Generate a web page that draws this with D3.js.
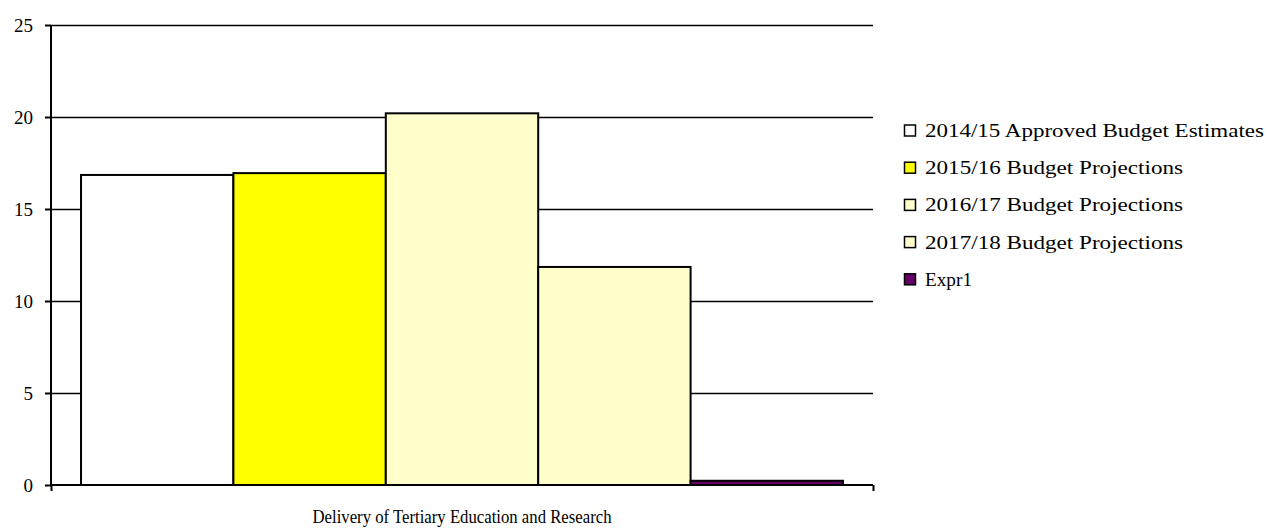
<!DOCTYPE html>
<html><head><meta charset="utf-8">
<script src="https://cdn.jsdelivr.net/npm/d3@7"></script>
<style>body{margin:0;background:#fff}svg{display:block}text{font-family:"Liberation Serif","Times New Roman",serif;fill:#000}</style>
</head><body><svg id="c" width="1269" height="528"></svg>
<script>
const categories = ["Delivery of Tertiary Education and Research"];
const seriesNames = ["2014/15 Approved Budget Estimates","2015/16 Budget Projections","2016/17 Budget Projections","2017/18 Budget Projections","Expr1"];
const seriesValues = [16.85, 16.95, 20.2, 11.85, 0.23];
const seriesColors = ["#ffffff","#ffff00","#ffffcc","#ffffcc","#660066"];
const yTicks = [0,5,10,15,20,25];

const svg = d3.select("#c");
const L = 51, R = 873, T = 25, B = 485;
const y = d3.scaleLinear().domain([0,25]).range([B,T]);
const x0 = d3.scaleBand().domain(categories).range([L,R]).paddingInner(0).paddingOuter(0.0394);
const x1 = d3.scaleBand().domain(seriesNames).range([0,x0.bandwidth()]).padding(0);

// gridlines
svg.append("g").selectAll("line").data(yTicks.filter(d=>d>0)).join("line")
  .attr("x1",L).attr("x2",R).attr("y1",d=>Math.round(y(d))+0.5).attr("y2",d=>Math.round(y(d))+0.5)
  .attr("stroke","#000").attr("stroke-width",1.4);

// bars
const g = svg.append("g");
categories.forEach(c=>{
  g.selectAll("rect.b").data(seriesNames).join("rect").attr("class","b")
    .attr("x",(s)=>x0(c)+x1(s)).attr("width",x1.bandwidth())
    .attr("y",(s,i)=>y(seriesValues[i])).attr("height",(s,i)=>B-y(seriesValues[i]))
    .attr("fill",(s,i)=>seriesColors[i]).attr("stroke","#000").attr("stroke-width",2);
});

// y axis
const ya = d3.axisLeft(y).tickValues(yTicks).tickSize(6).tickPadding(12);
const yg = svg.append("g").attr("transform",`translate(${L},0)`).call(ya);
yg.attr("font-family",null).attr("font-size",null);
yg.select(".domain").attr("stroke","#000").attr("stroke-width",2).attr("d",`M0,${T}V${B}`);
yg.selectAll(".tick line").attr("stroke","#000").attr("stroke-width",2);
yg.selectAll(".tick text").style("font-family","'Liberation Serif', serif").style("font-size","19px").attr("dy","0.34em");

// x axis
const xa = d3.axisBottom(d3.scaleLinear().domain([0,1]).range([L,R])).tickValues([0,1]).tickSize(6).tickFormat("");
const xg = svg.append("g").attr("transform",`translate(0,${B})`).call(xa);
xg.select(".domain").attr("stroke","#000").attr("stroke-width",2).attr("d",`M${L},0H${R}`);
xg.selectAll(".tick line").attr("stroke","#000").attr("stroke-width",2);
svg.append("text").attr("x",x0(categories[0])+x0.bandwidth()/2).attr("y",523)
  .attr("text-anchor","middle").style("font-size","19px")
  .attr("textLength",299).attr("lengthAdjust","spacingAndGlyphs").text(categories[0]);

// legend
const legendWidths = [339, 258, 258, 258, 47];
const lg = svg.append("g").attr("transform","translate(904,0)");
const rows = lg.selectAll("g").data(seriesNames).join("g").attr("transform",(d,i)=>`translate(0,${137+i*37.2})`);
rows.append("rect").attr("x",0.5).attr("y",-12).attr("width",11).attr("height",11)
  .attr("fill",(d,i)=>seriesColors[i]).attr("stroke","#000").attr("stroke-width",1.5);
rows.append("text").attr("x",21).attr("y",0).style("font-size","18.5px")
  .attr("textLength",(d,i)=>legendWidths[i]).attr("lengthAdjust","spacingAndGlyphs").text(d=>d);
</script></body></html>
